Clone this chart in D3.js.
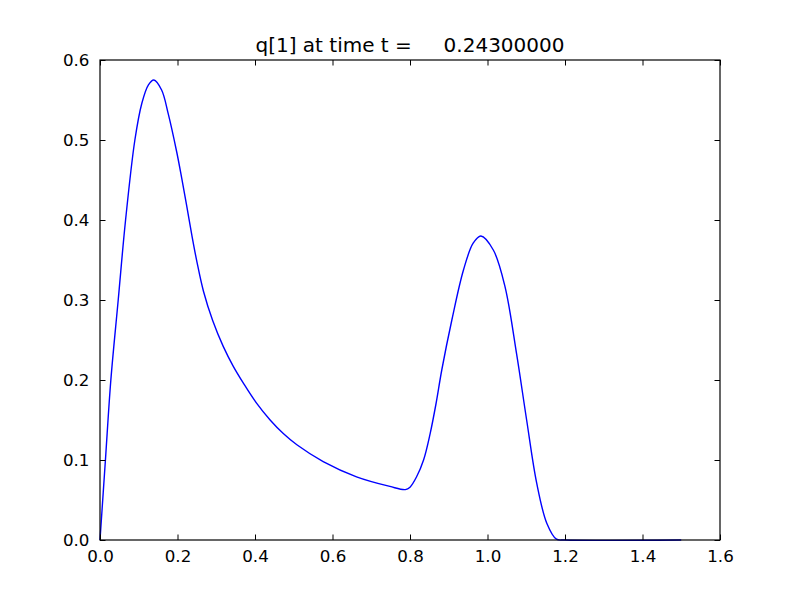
<!DOCTYPE html>
<html>
<head>
<meta charset="utf-8">
<script src="https://cdn.jsdelivr.net/npm/d3@7"></script>
<style>
  body { margin: 0; background: #fff; }
  svg { display: block; }
  text { font-family: "DejaVu Sans", sans-serif; fill: #000; }
</style>
</head>
<body>
<script>
// valores
const tituloTexto = 'q[1] at time t =     0.24300000'
const posX = [0, 0.014, 0.028, 0.047, 0.066, 0.090, 0.108, 0.125, 0.139,
  0.159, 0.176, 0.198, 0.211, 0.224, 0.237, 0.250, 0.267, 0.291, 0.318, 0.344,
  0.370, 0.404, 0.439, 0.473, 0.508, 0.576, 0.662, 0.748, 0.788, 0.800, 0.817,
  0.835, 0.852, 0.867, 0.882, 0.908, 0.938, 0.963, 0.983, 1.015, 1.045, 1.075,
  1.101, 1.127, 1.153, 1.178, 1.2, 1.5]
const valorQ = [0, 0.1, 0.2, 0.3, 0.4, 0.5, 0.546, 0.569, 0.575,
  0.5625, 0.533, 0.485, 0.452, 0.417, 0.381, 0.348, 0.311, 0.274, 0.242, 0.217,
  0.196, 0.171, 0.15, 0.133, 0.119, 0.098, 0.079, 0.067, 0.063, 0.066, 0.079,
  0.100, 0.133, 0.170, 0.2125, 0.275, 0.3375, 0.371, 0.38, 0.3625, 0.317, 0.233,
  0.15, 0.071, 0.021, 0.001, 0, 0]
const ticksX = [0, 0.2, 0.4, 0.6, 0.8, 1.0, 1.2, 1.4, 1.6]
const ticksY = [0, 0.1, 0.2, 0.3, 0.4, 0.5, 0.6]

const margem = {topo: 60, direita: 80, base: 60, esquerda: 100}
const largura = 800 - margem.esquerda - margem.direita
const altura = 600 - margem.topo - margem.base

const dados = posX.map((x, i) => ({x: x, q: valorQ[i]}))

const svg = d3.select('body').append('svg')
  .attr('width', 800)
  .attr('height', 600)

const grupo = svg.append('g')
  .attr('transform', 'translate(' + margem.esquerda + ',' + margem.topo + ')')

const escalaX = d3.scaleLinear().domain([0, 1.6]).range([0, largura])
const escalaY = d3.scaleLinear().domain([0, 0.6]).range([altura, 0])

const linha = d3.line()
  .x(d => escalaX(d.x))
  .y(d => escalaY(d.q))
  .curve(d3.curveCatmullRom.alpha(0.5))

grupo.append('path')
  .attr('d', linha(dados))
  .attr('fill', 'none')
  .attr('stroke', '#0000ff')
  .attr('stroke-width', 1.4)

const tam = 5.5
const fmt = d3.format('.1f')

const eixoBase = d3.axisBottom(escalaX).tickValues(ticksX).tickFormat(fmt)
  .tickSizeInner(-tam).tickSizeOuter(0).tickPadding(tam + 5)
const eixoTopo = d3.axisTop(escalaX).tickValues(ticksX).tickFormat('')
  .tickSizeInner(-tam).tickSizeOuter(0)
const eixoEsquerda = d3.axisLeft(escalaY).tickValues(ticksY).tickFormat(fmt)
  .tickSizeInner(-tam).tickSizeOuter(0).tickPadding(tam + 5)
const eixoDireita = d3.axisRight(escalaY).tickValues(ticksY).tickFormat('')
  .tickSizeInner(-tam).tickSizeOuter(0)

const gBase = grupo.append('g').attr('transform', 'translate(0,' + altura + ')').call(eixoBase)
const gTopo = grupo.append('g').call(eixoTopo)
const gEsq = grupo.append('g').call(eixoEsquerda)
const gDir = grupo.append('g').attr('transform', 'translate(' + largura + ',0)').call(eixoDireita)

for (const g of [gBase, gTopo, gEsq, gDir]) {
  g.select('.domain').remove()
  g.selectAll('line').attr('stroke', '#000').attr('stroke-width', 1)
  g.selectAll('text').attr('font-size', '16.7px').attr('font-family', '"DejaVu Sans", sans-serif')
}

// moldura
grupo.append('rect')
  .attr('x', 0).attr('y', 0)
  .attr('width', largura).attr('height', altura)
  .attr('fill', 'none')
  .attr('stroke', '#000')
  .attr('stroke-width', 1.2)

svg.append('text')
  .attr('x', margem.esquerda + largura / 2)
  .attr('y', 52)
  .attr('text-anchor', 'middle')
  .attr('font-size', '20px')
  .style('white-space', 'pre')
  .text(tituloTexto)
</script>
</body>
</html>
